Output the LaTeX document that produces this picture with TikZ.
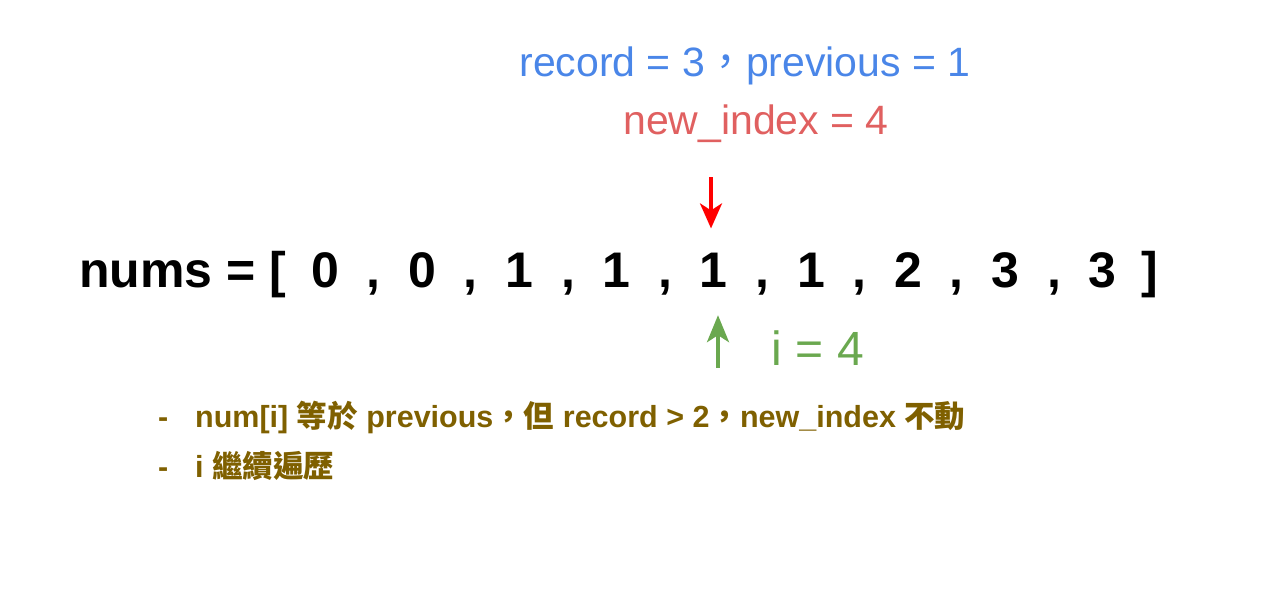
\documentclass[tikz,border=0pt]{standalone}
\usepackage{fontspec}
\setmainfont{Liberation Sans}
\newfontfamily\cjk{Noto Sans CJK TC}
\usetikzlibrary{arrows.meta}
\definecolor{recblue}{HTML}{4A86E8}
\definecolor{idxred}{HTML}{E06060}
\definecolor{arrowred}{HTML}{FF0000}
\definecolor{igreen}{HTML}{6AA84F}
\definecolor{notebrown}{HTML}{7F6000}

\begin{document}
\begin{tikzpicture}[x=1pt,y=-1pt,inner sep=0pt,
  numtxt/.style={anchor=base,font=\fontsize{50}{60}\selectfont\bfseries},
  toptxt/.style={anchor=base,font=\fontsize{41}{49}\selectfont},
  note/.style={anchor=base west,text=notebrown,font=\fontsize{30.5}{36}\selectfont\bfseries},
  redarrow/.style={draw=arrowred,line width=3.5pt,-{Stealth[length=25pt,width=22pt,inset=7pt]}},
  grnarrow/.style={draw=igreen,line width=3.5pt,-{Stealth[length=27pt,width=22pt,inset=7pt]}}]
\useasboundingbox (0,0) rectangle (1275,592);
% the array
\node[numtxt,anchor=base west] (lbl) at (79,287) {nums = [};
\foreach \v [count=\k from 0] in {0,0,1,1,1,1,2,3,3}
  \node[numtxt] (n\k) at (325+97.2*\k,287) {\v};
\foreach \k in {0,...,7}
  \node[numtxt] (c\k) at (373.6+97.2*\k,287) {,};
\node[numtxt] (rb) at (1150,287) {]};
% values above
\node[toptxt,text=recblue] (rec) at (745,76) {record = 3{\cjk ，}previous = 1};
\node[toptxt,text=idxred] (newidx) at (756,134) {new\_index = 4};
% pointers
\coordinate (redtop) at (711,177);
\draw[redarrow,shorten >=24pt] (redtop) -- (redtop |- n4.north);
\coordinate (grnfoot) at (718,368);
\draw[grnarrow,shorten >=28pt] (grnfoot) -- (grnfoot |- n4.south);
\node[toptxt,text=igreen,font=\fontsize{48}{56}\selectfont] (ival) at (818,365) {i = 4};
% notes
\node[note] (d1) at (158,427) {-};
\node[note] (t1) at (195,427) {num[i] {\cjk 等於} previous{\cjk ，但} record > 2{\cjk ，}new\_index {\cjk 不動}};
\node[note] (d2) at (158,477) {-};
\node[note] (t2) at (195,477) {i {\cjk 繼續遍歷}};
\end{tikzpicture}
\end{document}
